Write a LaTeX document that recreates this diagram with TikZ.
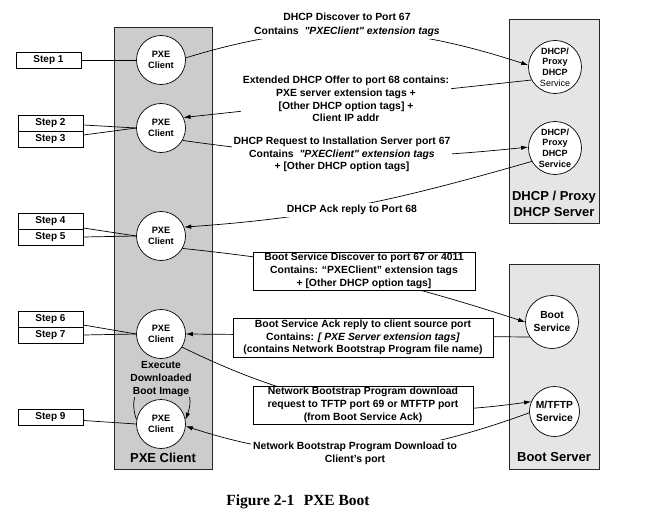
\documentclass[tikz,border=0pt]{standalone}
\usepackage{fontspec}
\setmainfont{Liberation Sans}
\newfontfamily\figfont{Liberation Serif}
\usetikzlibrary{arrows.meta,positioning}
\pgfdeclarelayer{back}
\pgfdeclarelayer{wires}
\pgfsetlayers{back,wires,main}
\definecolor{colgray}{gray}{0.8}
\definecolor{srvgray}{gray}{0.9}
\newcommand{\pxe}{PXE\\Client}
\newcommand{\proxy}{DHCP/\\Proxy\\DHCP}
\newcommand{\pxetags}{\textit{\textquotedbl PXEClient\textquotedbl\ extension tags}}

\begin{document}
\begin{tikzpicture}[x=1pt, y=1pt, node distance=16pt, on grid,
    >={Latex[length=7pt,width=4.5pt]},
    column/.style={draw=black!85, line width=0.9pt, inner sep=0pt},
    client/.style={circle, draw, line width=0.7pt, fill=white, minimum size=49pt,
      inner sep=0pt, align=center, font=\bfseries\fontsize{9.2}{11}\selectfont},
    service/.style={client, minimum size=53pt, font=\bfseries\fontsize{9}{10.8}\selectfont},
    bootsvc/.style={client, font=\bfseries\fontsize{10.3}{13}\selectfont},
    stepbox/.style={draw, line width=0.8pt, fill=white, minimum width=65pt,
      minimum height=16pt, inner sep=0pt, font=\bfseries\fontsize{10}{12}\selectfont},
    msg/.style={fill=white, align=center, inner sep=2pt,
      font=\bfseries\fontsize{10.4}{12.8}\selectfont},
    msgbox/.style={msg, draw, line width=0.8pt, inner sep=0pt},
    title/.style={align=center, font=\bfseries\fontsize{13}{16}\selectfont},
    wire/.style={line width=0.7pt}]

  \useasboundingbox (0,0) rectangle (646,-519);

  % Columns for the client and the two servers
  \begin{pgfonlayer}{back}
    \node[column, fill=colgray, minimum width=98pt, minimum height=442pt] (pxecol) at (163,-248) {};
    \node[column, fill=srvgray, minimum width=90pt, minimum height=204pt] (dhcpcol) at (554,-121) {};
    \node[column, fill=srvgray, minimum width=90pt, minimum height=205pt] (bootcol) at (554,-366.5) {};
  \end{pgfonlayer}
  \node[title] (pxetitle) at ([yshift=12pt]pxecol.south) {PXE Client};
  \node[title] (dhcptitle) at ([yshift=20pt]dhcpcol.south) {DHCP / Proxy\\DHCP Server};
  \node[title] (boottitle) at ([yshift=12pt]bootcol.south) {Boot Server};

  % Client states
  \node[client] (c1) at (161,-60) {\pxe};
  \node[client] (c2) at (161,-128) {\pxe};
  \node[client] (c3) at (161,-236) {\pxe};
  \node[client] (c4) at (161,-334) {\pxe};
  \node[client] (c5) at (161,-424) {\pxe};
  \node[msg, fill=colgray, inner sep=1pt, font=\bfseries\fontsize{10.3}{12.8}\selectfont]
    (exec) at (161,-379) {Execute\\Downloaded\\Boot Image};

  % Server states
  \node[service] (d1) at (555,-67) {\proxy\\{\mdseries Service}};
  \node[service] (d2) at (555,-148) {\proxy\\Service};
  \node[bootsvc, minimum size=53pt] (bsvc) at (552,-322) {Boot\\Service};
  \node[bootsvc, minimum size=50pt] (mt) at (554.5,-411.5) {M/TFTP\\Service};

  % Steps
  \node[stepbox] (s1) at (48.5,-60) {Step 1};
  \node[stepbox] (s2) at (50.5,-123) {Step 2};
  \node[stepbox] (s3) [below=of s2] {Step 3};
  \node[stepbox] (s4) at (50.5,-221) {Step 4};
  \node[stepbox] (s5) [below=of s4] {Step 5};
  \node[stepbox] (s6) at (50.5,-319) {Step 6};
  \node[stepbox] (s7) [below=of s6] {Step 7};
  \node[stepbox] (s9) at (50.5,-417.5) {Step 9};

  % Messages
  \node[msg, font=\bfseries\fontsize{10.4}{14.5}\selectfont] (m1) at (347,-25)
    {DHCP Discover to Port 67\\Contains\ \ \pxetags};
  \node[msg] (m2) at (346,-99)
    {Extended DHCP Offer to port 68 contains:\\PXE server extension tags +\\{[Other DHCP option tags] +}\\Client IP addr};
  \node[msg] (m3) at (342,-154.5)
    {DHCP Request to Installation Server port 67\\Contains\ \ \pxetags\\+ [Other DHCP option tags]};
  \node[msg] (m4) at (352,-210) {DHCP Ack reply to Port 68};
  \node[msgbox, minimum width=222pt, minimum height=38pt] (bdisc) at (364,-271)
    {Boot Service Discover to port 67 or 4011\\Contains: “PXEClient” extension tags\\+ [Other DHCP option tags]};
  \node[msgbox, minimum width=260pt, minimum height=39pt] (back) at (363,-337.5)
    {Boot Service Ack reply to client source port\\Contains: \textit{[ PXE Server extension tags]}\\(contains Network Bootstrap Program file name)};
  \node[msgbox, minimum width=220pt, minimum height=38pt] (nbpreq) at (363,-405)
    {Network Bootstrap Program download\\request to TFTP port 69 or MTFTP port\\(from Boot Service Ack)};
  \node[msg] (m8) at (355,-453) {Network Bootstrap Program Download to\\Client's port};

  \node[font=\figfont\bfseries\fontsize{15.5}{18}\selectfont] (fig) at (298,-502) {Figure 2-1\hspace{0.6em}PXE Boot};

  % Arrows for the boot sequence
  \begin{pgfonlayer}{wires}
    \draw[wire] (s1) -- (c1);
    \draw[wire] ([yshift=-2pt]s2.east) -- (c2.west);
    \draw[wire] ([yshift=4pt]s3.east) -- (c2.west);
    \draw[wire] ([yshift=-7pt]s4.east) -- (c3.west);
    \draw[wire] (s5.east) -- (c3.west);
    \draw[wire] ([yshift=-6pt]s6.east) -- (c4.west);
    \draw[wire] (s7.east) -- (c4.west);
    \draw[wire] ([yshift=-3pt]s9.east) -- (c5.west);

    \draw[wire, ->] (c1.5) to[out=17, in=162] (d1.176);
    \draw[wire, ->] (d1.209) -- (c2.25);
    \draw[wire, ->] (c2.-30) to[out=-8, in=186] (d2.178);
    \draw[wire, ->] (d2.210) to[out=196, in=4] (c3.21);
    \draw[wire, ->] (c3.-30) to[out=-6, in=162] (bsvc.180);
    \draw[wire, ->] (bsvc.214) -- (c4.east);
    \draw[wire, ->] (c4.-32) to[out=-26, in=188] (mt.157);
    \draw[wire, ->] (mt.183) to[out=200, in=-18] (c5.-5);
    \draw[wire, ->] (c5.170) to[out=110, in=70, looseness=3] (c5.10);
  \end{pgfonlayer}

\end{tikzpicture}
\end{document}
